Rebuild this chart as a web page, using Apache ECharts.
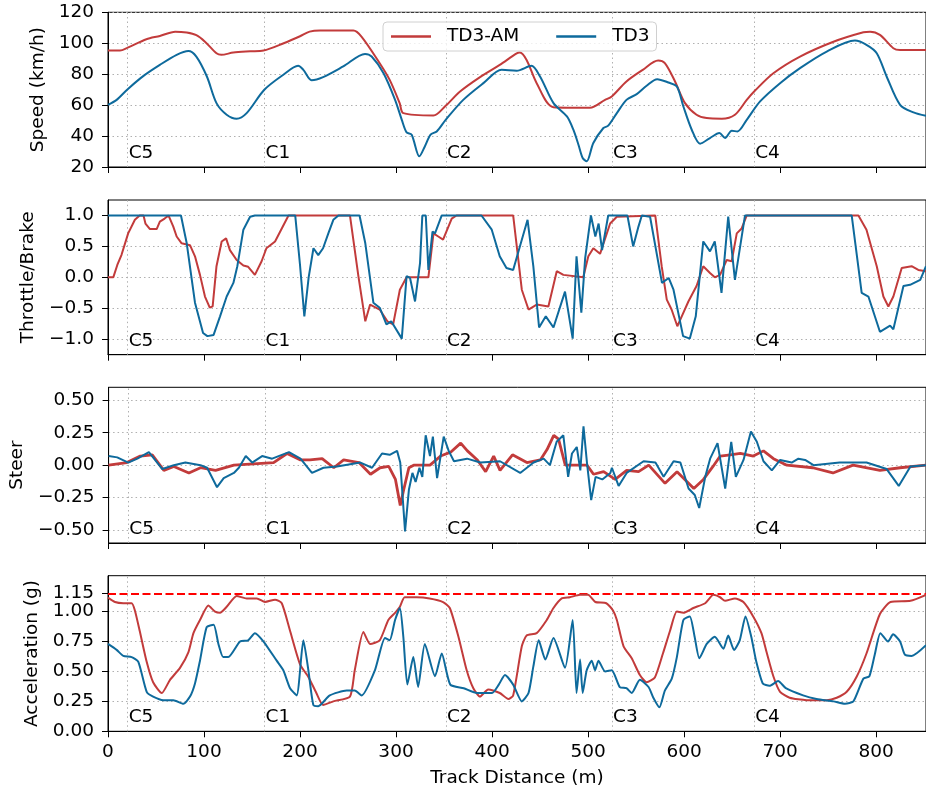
<!DOCTYPE html>
<html><head><meta charset="utf-8">
<script src="https://cdn.jsdelivr.net/npm/echarts@6/dist/echarts.min.js"></script>
<style>html,body{margin:0;padding:0;background:#fff}#c{width:926px;height:794px}</style>
</head><body><div id="c"></div><script>
const seriesNames = ['TD3-AM', 'TD3'];
const corners = [20.5, 163, 352, 525, 673];
const cornerNames = ['C5', 'C1', 'C2', 'C3', 'C4'];
const xTicks = [0, 100, 200, 300, 400, 500, 600, 700, 800];
const speedTicks = [20, 40, 60, 80, 100, 120];
const throttleTicks = [-1, -0.5, 0, 0.5, 1];
const steerTicks = [-0.5, -0.25, 0, 0.25, 0.5];
const accTicks = [0, 0.25, 0.5, 0.75, 1.0];
const accLimit = 1.15;
const accExtraTicks = [1.15];

const speedTD3AM = [[0,95.3],[12.5,95.3],[20.5,97.2],[40,102.6],[54,104.7],[70,107.5],[82,106.9],[92,105.2],[101,101],[113,93.5],[118,92.5],[130.5,94],[148,94.8],[162,95.3],[183,100],[200,104.5],[210,107.5],[221,108.2],[255.6,108.2],[264,104.3],[283,87.1],[293.4,76.3],[303.8,61.3],[307.6,54.8],[338.9,53.3],[351.7,59.6],[366.7,68.8],[387.5,78.1],[408,86],[425.7,93.5],[429,94],[436,89.2],[446.5,74.2],[463.9,58.7],[502,58.3],[517.7,63.4],[524.7,65.6],[540,75.3],[557,82.8],[573,88.8],[580,87.1],[590.6,75.3],[601,61.3],[613,53.8],[623.6,51.6],[639.3,51.2],[653,53.8],[665.3,63.4],[673,68.8],[693,80.6],[720.8,91.4],[755.6,101],[786.8,107.1],[793.8,107.5],[804,105.4],[818,96.8],[825,95.7],[852,95.7]];
const speedTD3 = [[0,60.2],[9,63.4],[20.5,70.3],[37,78.9],[54,86],[71.5,92.5],[83.7,95],[92,91.4],[103,78.5],[113,61.3],[123.6,53.8],[134,51.2],[144.4,54.8],[162.8,69.9],[182.6,79.6],[198,85.4],[203.5,82.8],[212,76.1],[224,78.1],[245,85],[267.7,93.1],[274.6,91.4],[287,80.6],[299,63.4],[306,50.5],[311,42.4],[316.3,40.9],[324.3,26.9],[330,33.3],[336,40.9],[342.4,43],[351.7,50.5],[370,63.4],[391,74.2],[410,82.8],[425.7,82.2],[441,85.4],[450,78.5],[464,61.3],[478,52.7],[484.7,44.1],[490,34.4],[494.4,25.8],[498.6,23.7],[505.5,35.5],[516,45.2],[521,46.7],[530,54.8],[540,63.4],[550.7,67.1],[561,72.5],[572,76.8],[583.7,74.6],[592.5,72],[599.3,59.1],[608,44.1],[616.7,35.1],[627,38.7],[636.8,41.9],[642.7,38.7],[649.7,43.4],[655.6,43],[665.3,50.5],[679.2,62.4],[700,74.2],[720.8,83.9],[748.6,94.6],[778,101.7],[790,98.9],[800.7,93.5],[811,78.5],[825,60.2],[839,55.3],[852,53.1]];

const throttleTD3AM = [[0,0],[5.5,0],[9.7,0.2],[14,0.36],[21,0.71],[28,0.93],[33,1],[37,1],[39,0.87],[43.7,0.78],[50.7,0.78],[54,0.9],[59,0.95],[63,1],[68,0.82],[71.5,0.66],[76.7,0.55],[85.4,0.52],[90.6,0.34],[95.8,0.04],[101,-0.31],[106,-0.49],[109,-0.47],[113,0.18],[118.4,0.58],[123,0.63],[127,0.44],[134,0.28],[141,0.19],[146,0.17],[153,0.04],[160,0.26],[165,0.47],[174,0.58],[181,0.79],[188,1],[252,1],[260.8,0.02],[268,-0.71],[273,-0.44],[283,-0.52],[291,-0.71],[297,-0.76],[304,-0.2],[311,0],[333.7,0],[339,0.71],[344,0.66],[349,0.61],[358,0.95],[363,1],[422,1],[431,-0.2],[438,-0.52],[446.5,-0.44],[458.7,-0.47],[467.4,0.1],[474.3,0.04],[495,0],[500.3,0.34],[505.5,0.47],[512.5,0.38],[523,0.87],[530,0.98],[531.6,1],[570,1],[576.7,0.18],[582,-0.36],[587,-0.52],[593,-0.79],[597.6,-0.63],[604.5,-0.39],[613,-0.14],[620,0.18],[627,0.07],[632,0],[637.5,0.04],[644.4,0.28],[649.6,0.26],[654.9,0.71],[660,0.79],[665.3,1],[781.6,1],[790,0.77],[800.7,0.18],[807.6,-0.31],[812.8,-0.47],[818,-0.31],[826.7,0.15],[837,0.18],[844,0.12],[852,0.1]];
const throttleTD3 = [[0,1],[76,1],[82,0.55],[90.6,-0.41],[99,-0.9],[103.5,-0.95],[110,-0.93],[116.7,-0.63],[123.6,-0.31],[130.6,-0.09],[134.7,0.18],[141,0.77],[148,0.98],[153,1],[195,1],[200,0.2],[204.5,-0.63],[209,0.0],[214,0.47],[219,0.36],[224,0.47],[229.5,0.71],[234.7,0.93],[240,1],[262,1],[268,0.55],[276.4,-0.41],[283,-0.49],[290,-0.76],[295,-0.71],[306,-0.99],[311,0.02],[314.6,-0.01],[319.8,-0.39],[325,0.23],[327.4,1],[331,1],[333.7,0.12],[338,0.74],[340.6,0.71],[347.6,1],[389,1],[399.7,0.77],[408,0.34],[415,0.15],[422,0.12],[429,0.5],[437,0.93],[443,0.18],[449,-0.81],[456,-0.63],[464,-0.81],[476,-0.23],[484,-0.99],[488,0.34],[493,-0.57],[497,0.31],[503,1],[507.6,0.66],[511,0.87],[514.6,0.44],[521,1],[541,1],[547,0.5],[552.5,0.82],[556,1],[564.6,0.98],[577,-0.09],[584,-0.01],[589,-0.2],[599,-0.95],[606,-0.99],[612.2,-0.63],[620,0.58],[627,0.42],[632,0.58],[639,-0.25],[646,0.98],[653,-0.04],[663.5,1],[774.6,1],[785,-0.25],[792,-0.31],[804,-0.88],[814.6,-0.78],[818,-0.84],[828.5,-0.14],[835.4,-0.12],[846,-0.04],[852,0.18]];

const steerTD3AM = [[0,0],[19,0.02],[33,0.07],[45.5,0.08],[57.6,-0.04],[68,-0.01],[83.7,-0.06],[95.8,-0.02],[111.5,-0.04],[130.6,0],[151,0.01],[172,0.02],[186,0.09],[200,0.04],[210,0.04],[222.6,0.05],[234.7,-0.02],[245,0.04],[261,0.02],[273,-0.07],[283,-0.02],[292,-0.01],[299,-0.11],[304,-0.31],[307.6,-0.19],[313,-0.02],[318,0],[335,0],[346,0.07],[356.5,0.1],[367,0.17],[374,0.11],[384.4,0.04],[393,-0.05],[401.4,0.07],[408,-0.04],[421,0.08],[436,0.02],[450,0.04],[457,0.12],[464,0.23],[469,0.2],[476,0],[498.6,0],[505.5,-0.07],[516,-0.05],[528,-0.11],[540,-0.04],[552.4,-0.05],[563,0],[580,-0.14],[592.5,-0.05],[610,-0.18],[620,-0.11],[630,-0.01],[637.5,0.07],[648,0.08],[658.5,0.09],[672,0.07],[682.6,0.11],[693,0.05],[707,0],[734,-0.02],[755,-0.06],[776,0],[804,-0.04],[825,-0.02],[852,0]];
const steerTD3 = [[0,0.07],[9,0.06],[20.5,0.02],[30,0.05],[42,0.1],[56,-0.03],[68,0],[80,0.02],[95.8,0],[102.7,-0.02],[113,-0.17],[120,-0.1],[130.6,-0.06],[135.8,-0.02],[143,0.07],[149.7,0.02],[160,0.07],[170.5,0.05],[188,0.1],[200,0.05],[212,-0.06],[224,-0.02],[238,-0.01],[262.5,0.02],[274.6,-0.02],[285,0.09],[293,0.08],[300.7,0.11],[304,0.02],[309,-0.51],[313,-0.19],[316.7,-0.06],[320,-0.13],[324,-0.02],[327,-0.09],[330.5,0.23],[335,0.07],[338,0.22],[342.4,-0.1],[349.3,0.22],[354.5,0.11],[360,0.03],[373.6,0.05],[387.5,0.02],[408,0.03],[429,-0.06],[443,0.02],[453.5,0.05],[460,0],[467,0.18],[474,0.23],[479,-0.09],[483,0.09],[488,0.14],[491.7,-0.04],[495,0.3],[498.6,0.02],[503,-0.27],[507.6,-0.09],[514.6,-0.11],[523,-0.06],[524.6,-0.02],[531.6,-0.16],[540,-0.06],[557.6,0.03],[570,0.02],[578.5,-0.09],[588.9,0.03],[596,0.02],[604.5,-0.18],[611,-0.23],[615.6,-0.33],[621.9,-0.09],[627,0.05],[634.7,0.17],[642.7,-0.18],[649,0.18],[653.8,-0.09],[661.8,0.04],[669.5,0.26],[675.7,0.18],[682.6,0.03],[691.3,-0.04],[700,0.04],[712,0.02],[719,0.05],[726,0.04],[734.7,0],[762,0.02],[790,0.02],[811,-0.03],[823.6,-0.16],[835.8,-0.01],[852,0]];

const accTD3AM = [[0,1.117],[7.3,1.08],[16,1.07],[24.6,1.07],[28,1.01],[33,0.84],[40,0.59],[47,0.41],[56,0.32],[64.6,0.43],[75,0.53],[83.7,0.66],[89,0.82],[95.8,0.93],[104.5,1.05],[111.5,1.0],[116.7,0.99],[123.6,1.04],[134,1.13],[144.4,1.11],[155,1.11],[163.5,1.08],[174,1.1],[181,1.07],[189.6,0.84],[200,0.56],[209,0.45],[217,0.32],[224,0.22],[234.7,0.25],[252,0.29],[257,0.51],[266,0.83],[273,0.73],[283,0.76],[292,0.93],[299,0.99],[304,1.04],[309,1.12],[321.5,1.12],[335,1.11],[349,1.08],[356,1.03],[365,0.79],[373.6,0.51],[380.5,0.36],[387.5,0.29],[396,0.35],[408,0.32],[417,0.27],[422,0.3],[431,0.71],[436,0.8],[446.5,0.82],[457,0.93],[464,1.03],[472.6,1.11],[481,1.12],[491.7,1.14],[500,1.14],[507.6,1.08],[519,1.07],[526,1.01],[530,0.93],[537,0.71],[545.5,0.61],[554,0.47],[561,0.41],[569.6,0.45],[578,0.65],[585.4,0.84],[592.5,1.0],[599.3,0.99],[609.7,1.03],[622,1.07],[630.6,1.14],[637.5,1.12],[642.7,1.09],[653,1.11],[661.8,1.08],[672,0.96],[680.6,0.82],[686,0.66],[693,0.46],[700,0.33],[710,0.28],[727.6,0.26],[748.6,0.26],[759,0.28],[769.4,0.33],[780,0.46],[790,0.65],[804,0.98],[815,1.08],[835.8,1.09],[852,1.14]];
const accTD3 = [[0,0.73],[9,0.68],[16,0.63],[24.6,0.62],[31.6,0.58],[40.3,0.33],[47,0.29],[57.6,0.26],[68,0.26],[78.5,0.23],[85.4,0.29],[90.6,0.4],[95.8,0.59],[102.8,0.87],[110,0.89],[115,0.73],[120,0.62],[125.3,0.62],[137.5,0.75],[146,0.76],[153,0.82],[162,0.75],[175.7,0.59],[182.6,0.51],[189.6,0.36],[196.5,0.3],[203.5,0.76],[208.7,0.51],[213.9,0.22],[219,0.21],[231,0.3],[248.6,0.34],[257,0.34],[264.2,0.3],[278,0.51],[288.5,0.78],[293.4,0.76],[299,0.93],[304,1.03],[307.6,0.79],[311.8,0.39],[318,0.62],[323,0.37],[330,0.73],[340.6,0.46],[347.6,0.65],[356.5,0.39],[370.5,0.36],[384.4,0.32],[400,0.32],[407,0.39],[413.5,0.47],[422,0.39],[431,0.25],[438,0.32],[443,0.54],[448.6,0.76],[455.5,0.6],[464,0.78],[476,0.53],[484,0.93],[488,0.32],[491.7,0.6],[494.4,0.32],[498.6,0.51],[503.8,0.59],[507.3,0.51],[510.8,0.59],[517.7,0.5],[524.7,0.51],[533,0.37],[540,0.36],[545.5,0.32],[554,0.43],[563,0.37],[568,0.28],[574.3,0.2],[580,0.34],[587.2,0.44],[592.5,0.62],[599.3,0.93],[606,0.96],[611,0.79],[615.9,0.61],[623.6,0.73],[632,0.79],[641,0.69],[646,0.8],[652,0.68],[658,0.76],[664,0.96],[670,0.79],[675,0.59],[682,0.4],[689,0.38],[698,0.42],[706,0.36],[724,0.3],[738,0.27],[755.6,0.25],[767.7,0.23],[776.4,0.25],[786.8,0.44],[793,0.46],[798.6,0.64],[804.5,0.82],[812.5,0.75],[817.7,0.81],[825,0.75],[830,0.64],[837,0.63],[852,0.72]];

const FONT = 'DejaVu Sans';
const FS = 18.5;
const RED = '#c23b3b';
const BLUE = '#0e6a9c';
const GRIDC = '#b0b0b0';

const panels = [
  {top: 12.3, height: 154.7, min: 20, max: 120, ticks: speedTicks, name: 'Speed (km/h)', gap: 55, fmt: v => String(Math.round(v)), a: speedTD3AM, b: speedTD3, smooth: 0.3},
  {top: 200, height: 154.7, min: -1.25, max: 1.25, ticks: throttleTicks, name: 'Throttle/Brake', gap: 64, fmt: v => v.toFixed(1).replace('-', '\u2212'), a: throttleTD3AM, b: throttleTD3, smooth: false},
  {top: 387.3, height: 155.7, min: -0.6, max: 0.6, ticks: steerTicks, name: 'Steer', gap: 79.5, fmt: v => v.toFixed(2).replace('-', '\u2212'), a: steerTD3AM, b: steerTD3, smooth: false},
  {top: 575.7, height: 155.6, min: 0, max: 1.3, ticks: accTicks, name: 'Acceleration (g)', gap: 64, fmt: v => v.toFixed(2), a: accTD3AM, b: accTD3, smooth: 0.2}
];

const grid = [], xAxis = [], yAxis = [], series = [];
panels.forEach((p, i) => {
  grid.push({left: 108, width: 818, top: p.top, height: p.height, show: true, borderColor: '#000', borderWidth: 1, backgroundColor: 'transparent'});
  const last = i === panels.length - 1;
  xAxis.push({
    type: 'value', gridIndex: i, min: 0, max: 852,
    axisLine: {show: true, onZero: false, lineStyle: {color: '#000', width: 1}},
    axisTick: {show: true, length: 6, customValues: xTicks, lineStyle: {color: '#000'}},
    axisLabel: {show: last, customValues: xTicks, margin: 11, fontFamily: FONT, fontSize: FS, color: '#000'},
    splitLine: {show: false},
    name: last ? 'Track Distance (m)' : '', nameLocation: 'middle', nameGap: 37,
    nameTextStyle: {fontFamily: FONT, fontSize: FS, color: '#000'}
  });
  yAxis.push({
    type: 'value', gridIndex: i, min: p.min, max: p.max,
    axisLine: {show: true, onZero: false, lineStyle: {color: '#000', width: 1}},
    axisTick: {show: true, length: 6, customValues: p.ticks, lineStyle: {color: '#000'}},
    axisLabel: {customValues: p.ticks, formatter: p.fmt, margin: 14, hideOverlap: false, fontFamily: FONT, fontSize: FS, color: '#000'},
    splitLine: {show: true, lineStyle: {color: GRIDC, type: [1.5, 3], width: 1}},
    name: p.name, nameLocation: 'middle', nameGap: p.gap,
    nameTextStyle: {fontFamily: FONT, fontSize: FS, color: '#000'}
  });
  const markData = corners.map(c => ({xAxis: c}));
  if (last) markData.push({yAxis: accLimit, lineStyle: {color: '#ff0000', type: [8, 3.5], width: 2, opacity: 1}});
  series.push({
    type: 'scatter', xAxisIndex: i, yAxisIndex: i, z: 5, silent: true, animation: false,
    symbolSize: 0, itemStyle: {color: '#000', opacity: 1},
    data: corners.map((c, k) => ({value: [c, p.min], name: cornerNames[k]})),
    label: {show: true, formatter: '{b}', position: 'right', distance: 1, offset: [0, -14], opacity: 1, fontFamily: FONT, fontSize: FS, color: '#000', textBorderWidth: 0},
    markLine: {silent: true, symbol: 'none', animation: false, label: {show: false}, z: 1,
      lineStyle: {color: GRIDC, type: [1.5, 3], width: 1, opacity: 1}, data: markData}
  });
  series.push({name: seriesNames[0], type: 'line', xAxisIndex: i, yAxisIndex: i, z: 3, data: p.a, showSymbol: false, symbol: 'none', smooth: p.smooth, animation: false,
    lineStyle: {color: RED, width: i === 2 ? 2.8 : 2}, itemStyle: {color: RED}});
  series.push({name: seriesNames[1], type: 'line', xAxisIndex: i, yAxisIndex: i, z: 4, data: p.b, showSymbol: false, symbol: 'none', smooth: p.smooth, animation: false,
    lineStyle: {color: BLUE, width: 2}, itemStyle: {color: BLUE}});
});
// extra tick/label at the acceleration limit (own axis so it is not hidden by overlap)
yAxis.push({
  type: 'value', gridIndex: 3, position: 'left', offset: 0, min: 0, max: 1.3,
  axisLine: {show: false},
  axisTick: {show: true, length: 6, customValues: accExtraTicks, lineStyle: {color: '#000'}},
  axisLabel: {customValues: accExtraTicks, formatter: v => v.toFixed(2), margin: 14, hideOverlap: false, fontFamily: FONT, fontSize: FS, color: '#000'},
  splitLine: {show: false}
});

const chart = echarts.init(document.getElementById('c'), null, {renderer: 'canvas'});
chart.setOption({
  backgroundColor: '#fff',
  animation: false,
  legend: {
    data: seriesNames, left: 383, top: 22, orient: 'horizontal',
    icon: 'rect', itemWidth: 40, itemHeight: 2.5, itemGap: 37,
    padding: [5, 7, 5, 8],
    borderColor: '#d0d0d0', borderWidth: 1, borderRadius: 4,
    backgroundColor: 'rgba(255,255,255,0.8)',
    textStyle: {fontFamily: FONT, fontSize: FS, color: '#000', padding: [0, 0, 0, 11]}
  },
  grid, xAxis, yAxis, series
});
</script></body></html>
